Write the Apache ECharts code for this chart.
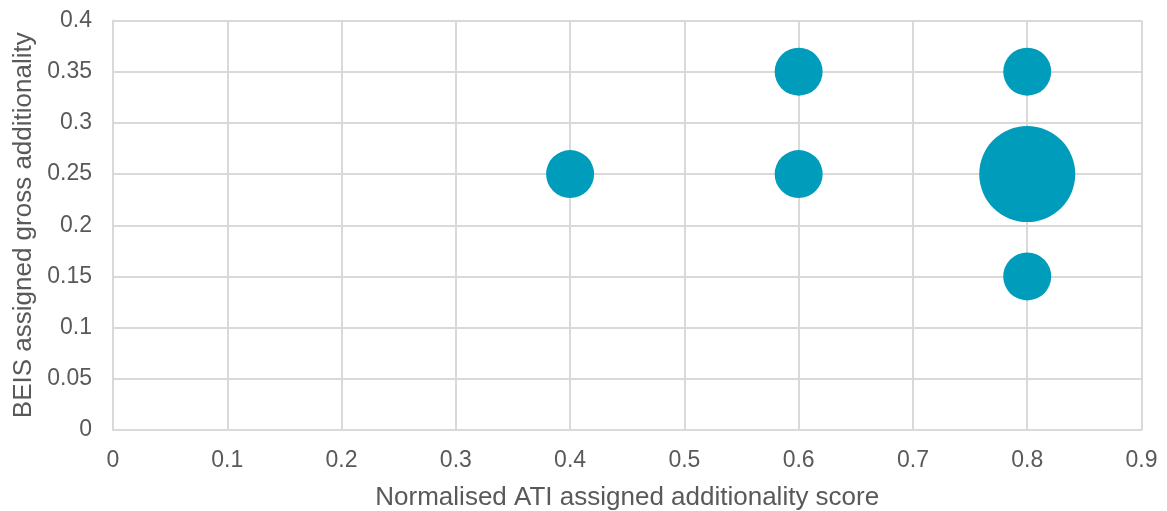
<!DOCTYPE html>
<html><head><meta charset="utf-8">
<script src="https://cdn.jsdelivr.net/npm/echarts@6/dist/echarts.min.js"></script>
<style>html,body{margin:0;padding:0;background:#fff}#c{width:1167px;height:511px}</style>
</head><body><div id="c"></div>
<script>
const xValues = [0.4, 0.6, 0.6, 0.8, 0.8, 0.8];
const yValues = [0.25, 0.35, 0.25, 0.35, 0.25, 0.15];
const bubbleSizes = [1, 1, 1, 1, 4, 1];
const xAxisTitle = 'Normalised ATI assigned additionality score';
const yAxisTitle = 'BEIS assigned gross additionality';

const data = xValues.map((x, i) => [x, yValues[i], bubbleSizes[i]]);
const chart = echarts.init(document.getElementById('c'));
const font = "'Liberation Sans', Arial, sans-serif";
chart.setOption({
  animation: false,
  grid: { left: 113, right: 25.5, top: 20.5, bottom: 81, containLabel: false, outerBoundsMode: 'none' },
  xAxis: {
    type: 'value', min: 0, max: 0.9, interval: 0.1,
    name: xAxisTitle, nameLocation: 'middle', nameGap: 55,
    nameTextStyle: { color: '#595959', fontSize: 26, fontFamily: font },
    axisLine: { show: true, lineStyle: { color: '#d9d9d9', width: 2 } },
    axisTick: { show: false },
    axisLabel: { color: '#595959', fontSize: 23, fontFamily: font, margin: 19,
      formatter: v => String(Math.round(v * 10) / 10) },
    splitLine: { show: true, lineStyle: { color: '#d9d9d9', width: 2 } }
  },
  yAxis: {
    type: 'value', min: 0, max: 0.4, interval: 0.05,
    name: yAxisTitle, nameLocation: 'middle', nameGap: 72,
    nameTextStyle: { color: '#595959', fontSize: 26, fontFamily: font },
    axisLine: { show: true, lineStyle: { color: '#d9d9d9', width: 2 } },
    axisTick: { show: false },
    axisLabel: { color: '#595959', fontSize: 23, fontFamily: font, margin: 21,
      formatter: v => String(Math.round(v * 100) / 100) },
    splitLine: { show: true, lineStyle: { color: '#d9d9d9', width: 2 } }
  },
  series: [{
    type: 'scatter',
    data: data,
    symbolSize: d => 48 * Math.sqrt(d[2]),
    itemStyle: { color: '#009cbb', opacity: 1 }
  }]
});
</script></body></html>
